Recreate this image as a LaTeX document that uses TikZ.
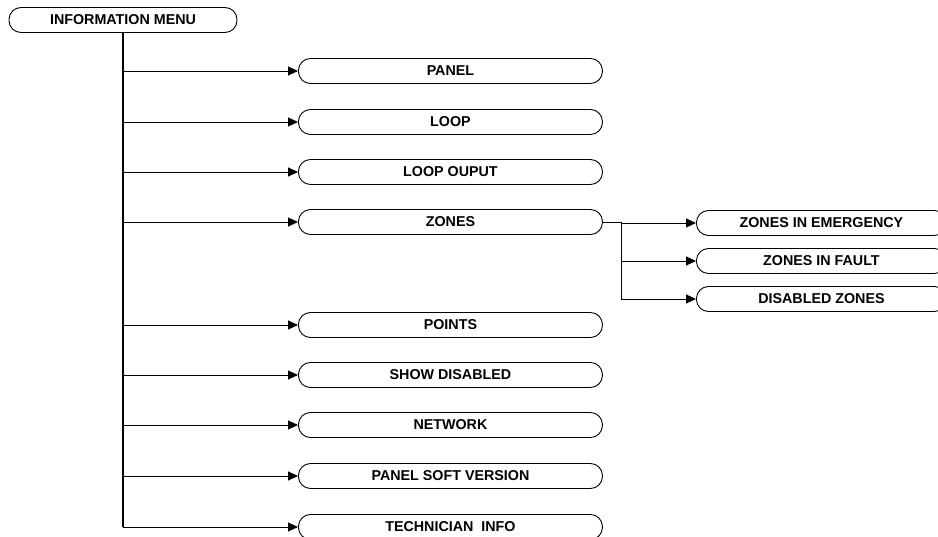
\documentclass[tikz,border=0pt]{standalone}
\usepackage{fontspec}
\setmainfont{Liberation Sans}
\usetikzlibrary{arrows.meta}
\begin{document}
\begin{tikzpicture}[x=1pt,y=-1pt,
 mbox/.style={draw, line width=0.9pt, rounded corners=12pt, minimum height=25pt, inner sep=0pt, font=\fontsize{14.3}{16}\selectfont\bfseries},
 mainbox/.style={mbox, minimum width=304pt, anchor=west},
 subbox/.style={mbox, minimum width=250pt, anchor=west},
 conn/.style={line width=0.9pt, -{Triangle[length=10pt,width=9pt]}},
 trunk/.style={line width=1.5pt},
 plain/.style={line width=0.9pt}
]
\useasboundingbox (0,0) rectangle (938,537);
\clip (0,0) rectangle (938,537);
\node[mbox, minimum width=228pt] (info) at (123,20) {INFORMATION MENU};
\node[mainbox] (panel)   at (298,71)  {PANEL};
\node[mainbox] (loop)    at (298,122) {LOOP};
\node[mainbox] (loopout) at (298,172) {LOOP OUPUT};
\node[mainbox] (zones)   at (298,222) {ZONES};
\node[mainbox] (points)  at (298,325) {POINTS};
\node[mainbox] (showdis) at (298,375) {SHOW DISABLED};
\node[mainbox] (network) at (298,425) {NETWORK};
\node[mainbox] (softver) at (298,476) {PANEL SOFT VERSION};
\node[mainbox] (tech)    at (298,527) {TECHNICIAN~ INFO};
\node[subbox] (emg) at (696,223) {ZONES IN EMERGENCY};
\node[subbox] (flt) at (696,261) {ZONES IN FAULT};
\node[subbox] (dis) at (696,299) {DISABLED ZONES};
\draw[trunk] (info.south) -- (info.south |- tech.west);
\foreach \n in {panel,loop,loopout,zones,points,showdis,network,softver,tech}
  \draw[conn] (info.south |- \n.west) -- (\n.west);
\coordinate (zj) at (621,222);
\draw[plain] (zones.east) -- (zj) -- (zj |- dis.west);
\draw[conn] (zj |- emg.west) -- (emg.west);
\draw[conn] (zj |- flt.west) -- (flt.west);
\draw[conn] (zj |- dis.west) -- (dis.west);
\end{tikzpicture}
\end{document}
